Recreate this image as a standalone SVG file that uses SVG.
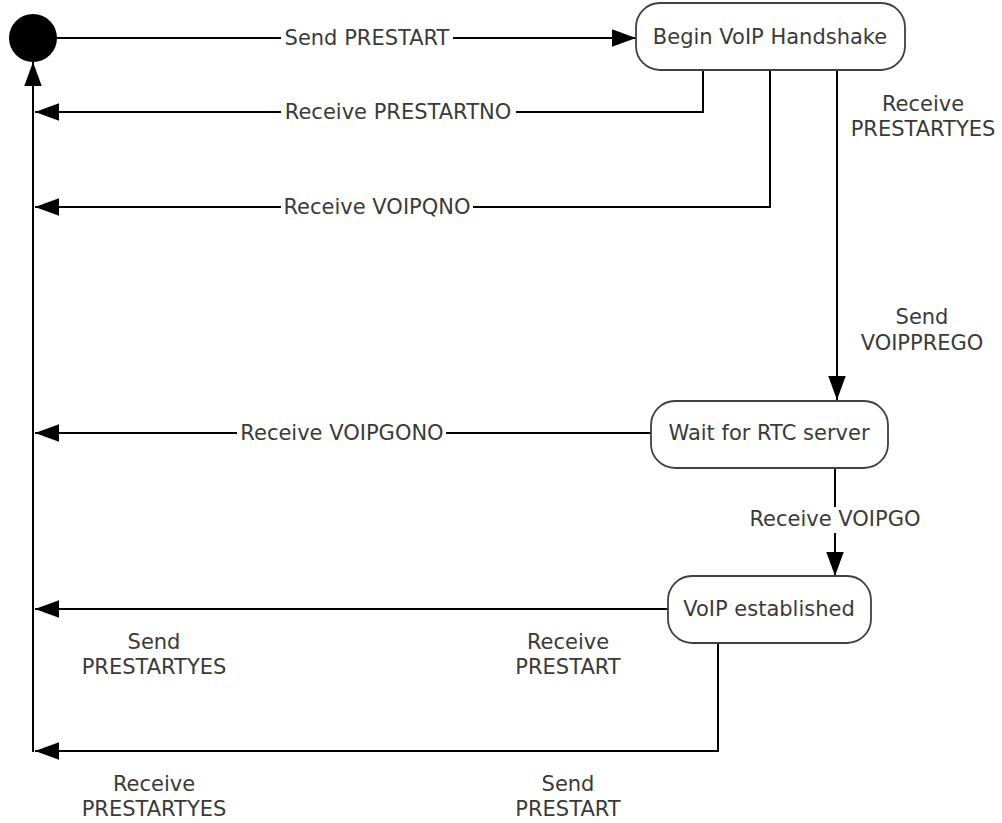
<svg xmlns="http://www.w3.org/2000/svg" width="1002" height="823" viewBox="0 0 1002 823">
  <defs>
    <marker id="arrow" markerUnits="userSpaceOnUse" markerWidth="24" markerHeight="18" viewBox="0 0 22 16" refX="22" refY="8" orient="auto">
      <path d="M0,0 L22,8 L0,16 z" fill="#000"/>
    </marker>
  </defs>
  <style>
    .edge { fill: none; stroke: #000; stroke-width: 2; }
    .arr { marker-end: url(#arrow); }
    .node { fill: #fff; stroke: #404040; stroke-width: 1.8; }
    text { font-family: "DejaVu Sans", Verdana, sans-serif; font-size: 21px; fill: #3a3a3a; }
    .c { text-anchor: middle; }
    .bg { fill: #fff; stroke: none; }
  </style>
  <rect width="1002" height="823" fill="#fff"/>

  <g id="connectors">
    <path class="edge arr" d="M57,38 H636"/>
    <path class="edge arr" d="M703,70 V112 H35"/>
    <path class="edge arr" d="M770,70 V207 H35"/>
    <path class="edge arr" d="M837,70 V400"/>
    <path class="edge arr" d="M651,433 H35"/>
    <path class="edge arr" d="M835,468 V576"/>
    <path class="edge arr" d="M668,609 H35"/>
    <path class="edge arr" d="M718,643 V751 H35"/>
    <path class="edge arr" d="M33,752 V62"/>
  </g>

  <g id="labels">
    <rect class="bg" x="281" y="28" width="172" height="22"/>
    <text class="c" x="367" y="45">Send PRESTART</text>
    <rect class="bg" x="281" y="102" width="235" height="22"/>
    <text class="c" x="398" y="119">Receive PRESTARTNO</text>
    <rect class="bg" x="281" y="197" width="192" height="22"/>
    <text class="c" x="377" y="214">Receive VOIPQNO</text>
    <text class="c" x="923" y="111">Receive</text>
    <text class="c" x="923" y="136">PRESTARTYES</text>
    <text class="c" x="922" y="324">Send</text>
    <text class="c" x="922" y="350">VOIPPREGO</text>
    <rect class="bg" x="237" y="423" width="209" height="22"/>
    <text class="c" x="342" y="440">Receive VOIPGONO</text>
    <rect class="bg" x="746" y="507" width="178" height="26"/>
    <text class="c" x="835" y="526">Receive VOIPGO</text>
    <text class="c" x="154" y="649">Send</text>
    <text class="c" x="154" y="674">PRESTARTYES</text>
    <text class="c" x="568" y="649">Receive</text>
    <text class="c" x="568" y="674">PRESTART</text>
    <text class="c" x="154" y="791">Receive</text>
    <text class="c" x="154" y="816">PRESTARTYES</text>
    <text class="c" x="568" y="791">Send</text>
    <text class="c" x="568" y="816">PRESTART</text>
  </g>

  <g id="start">
    <circle cx="33" cy="38" r="24" fill="#000"/>
  </g>
  <g id="begin-voip-handshake">
    <rect class="node" x="636" y="3" width="269" height="67" rx="24" ry="24"/>
    <text class="c" x="770" y="44">Begin VoIP Handshake</text>
  </g>
  <g id="wait-for-rtc-server">
    <rect class="node" x="651" y="401" width="237" height="67" rx="24" ry="24"/>
    <text class="c" x="769" y="440">Wait for RTC server</text>
  </g>
  <g id="voip-established">
    <rect class="node" x="668" y="576" width="203" height="67" rx="24" ry="24"/>
    <text class="c" x="769" y="616">VoIP established</text>
  </g>
</svg>
